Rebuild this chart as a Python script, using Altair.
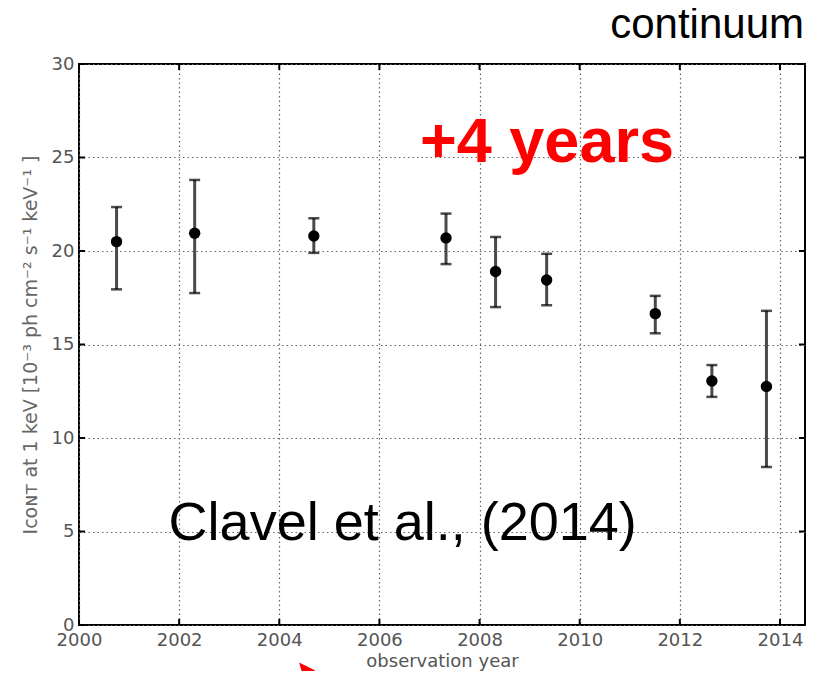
import altair as alt
import pandas as pd

# Observations (year, continuum flux at 1 keV with error bar limits)
years = [2000.75, 2002.31, 2004.69, 2007.33, 2008.32, 2009.34, 2011.51, 2012.64, 2013.73]
flux = [20.5, 20.95, 20.8, 20.7, 18.9, 18.45, 16.65, 13.05, 12.75]
err_hi = [22.35, 23.8, 21.75, 22.0, 20.75, 19.85, 17.6, 13.9, 16.8]
err_lo = [17.95, 17.75, 19.9, 19.3, 17.0, 17.1, 15.6, 12.2, 8.45]

x_ticks = [2000, 2002, 2004, 2006, 2008, 2010, 2012, 2014]
y_ticks = [0, 5, 10, 15, 20, 25, 30]

W, H = 726, 561
AX = "DejaVu Sans"
LBL = "#555555"

df = pd.DataFrame({"year": years, "flux": flux, "hi": err_hi, "lo": err_lo})
xt = pd.DataFrame({"t": x_ticks})
yt = pd.DataFrame({"t": y_ticks})

xs = alt.Scale(domain=[2000, 2014.5], nice=False, zero=False)
ys = alt.Scale(domain=[0, 30], nice=False, zero=True)

xaxis = alt.Axis(values=x_ticks, format="d", title="observation year", labelFont=AX, labelFontSize=18,
                 labelColor=LBL, titleFont=AX, titleFontSize=18, titleColor=LBL, titleFontWeight="normal",
                 ticks=False, domain=False, labelPadding=6, titlePadding=3, grid=True,
                 gridDash=[1.5, 3], gridColor="#666666", gridWidth=1.2, labelFlush=False)
yaxis = alt.Axis(values=y_ticks, title="Iᴄᴏɴᴛ  at 1 keV [10⁻³ ph cm⁻² s⁻¹ keV⁻¹ ]", labelFont=AX,
                 labelFontSize=18, labelColor=LBL, titleFont=AX, titleFontSize=19, titleColor="#666666",
                 titleFontWeight="normal", ticks=False, domain=False, labelPadding=5, titlePadding=11,
                 grid=True, gridDash=[1.5, 3], gridColor="#666666", gridWidth=1.2, labelFlush=False)

base = alt.Chart(df)

bars = base.mark_rule(color="#4a4a4a", strokeWidth=3).encode(
    x=alt.X("year:Q", scale=xs, axis=xaxis),
    y=alt.Y("lo:Q", scale=ys, axis=yaxis),
    y2="hi:Q",
)
cap_hi = base.mark_tick(orient="horizontal", color="black", size=11, thickness=2.5).encode(
    x=alt.X("year:Q", scale=xs), y=alt.Y("hi:Q", scale=ys))
cap_lo = base.mark_tick(orient="horizontal", color="black", size=11, thickness=2.5).encode(
    x=alt.X("year:Q", scale=xs), y=alt.Y("lo:Q", scale=ys))
pts = base.mark_circle(color="black", opacity=1, size=130).encode(
    x=alt.X("year:Q", scale=xs), y=alt.Y("flux:Q", scale=ys))

TL = 6
tb = alt.Chart(xt).mark_rule(color="black", strokeWidth=2).encode(
    x=alt.X("t:Q", scale=xs), y=alt.value(H), y2=alt.value(H - TL))
tt = alt.Chart(xt).mark_rule(color="black", strokeWidth=2).encode(
    x=alt.X("t:Q", scale=xs), y=alt.value(0), y2=alt.value(TL))
tl = alt.Chart(yt).mark_rule(color="black", strokeWidth=2).encode(
    y=alt.Y("t:Q", scale=ys), x=alt.value(0), x2=alt.value(TL))
tr = alt.Chart(yt).mark_rule(color="black", strokeWidth=2).encode(
    y=alt.Y("t:Q", scale=ys), x=alt.value(W), x2=alt.value(W - TL))

# Annotations
ann = pd.DataFrame({
    "x": [2014.48, 2006.81, 2001.79],
    "y": [31.4, 24.78, 4.53],
    "text": ["continuum", "+4 years", "Clavel et al., (2014)"],
})
t1 = alt.Chart(ann.iloc[[0]]).mark_text(font="Liberation Sans", fontSize=42, align="right",
                                         baseline="alphabetic", color="black").encode(
    x=alt.X("x:Q", scale=xs), y=alt.Y("y:Q", scale=ys), text="text:N")
t2 = alt.Chart(ann.iloc[[1]]).mark_text(font="Liberation Sans", fontSize=63, fontWeight="bold",
                                         align="left", baseline="alphabetic", color="#ff0000").encode(
    x=alt.X("x:Q", scale=xs), y=alt.Y("y:Q", scale=ys), text="text:N")
t3 = alt.Chart(ann.iloc[[2]]).mark_text(font="Liberation Sans", fontSize=54, align="left",
                                         baseline="alphabetic", color="black").encode(
    x=alt.X("x:Q", scale=xs), y=alt.Y("y:Q", scale=ys), text="text:N")

# red arrow fragment at the bottom edge
arrow = alt.Chart(pd.DataFrame({"a": [0]})).mark_point(
    shape="M -1 -0.7 L 1 0.3 L 1 1 L -0.5 1 Z", filled=True, color="#ff0000", opacity=1, size=250,
    strokeWidth=0
).encode(x=alt.value(228), y=alt.value(604))

chart = alt.layer(bars, cap_hi, cap_lo, pts, tb, tt, tl, tr, t1, t2, t3, arrow).properties(
    width=W, height=H, autosize="none",
    padding={"left": 71, "top": 56, "right": 6, "bottom": 46},
).configure_view(stroke="black", strokeWidth=2)

chart.save("out.html", embed_options={"renderer": "svg", "actions": False})
